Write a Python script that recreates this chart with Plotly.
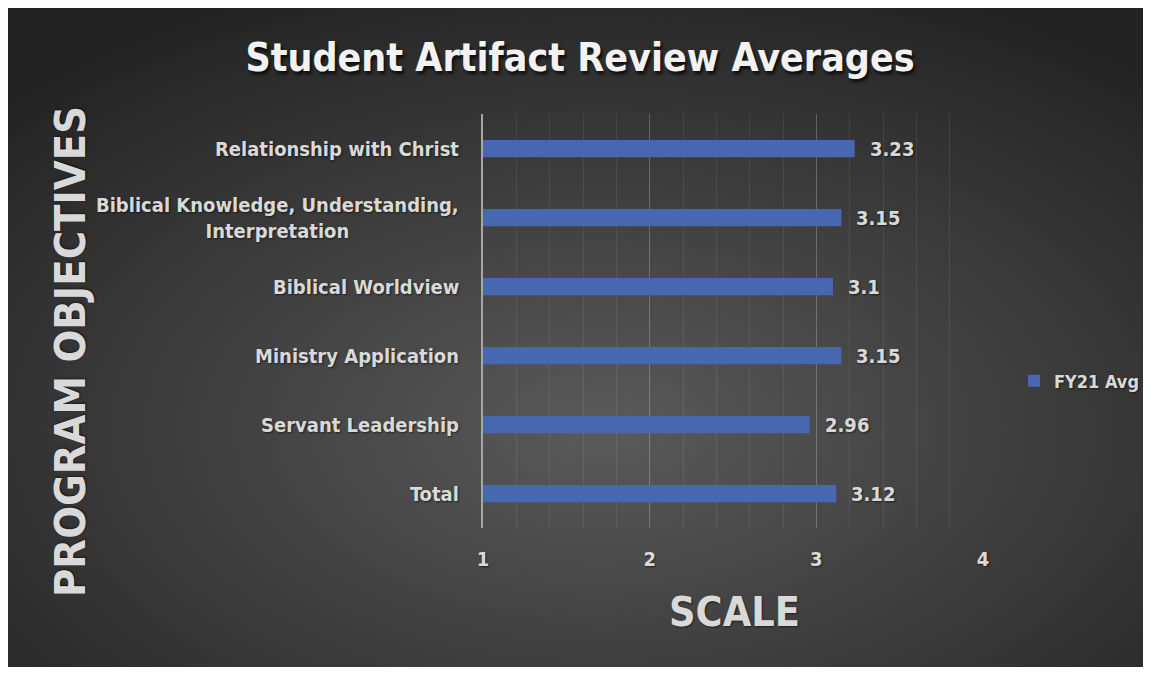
import base64
import plotly.graph_objects as go

categories = [
    "Relationship with Christ",
    "Biblical Knowledge, Understanding,<br>Interpretation",
    "Biblical Worldview",
    "Ministry Application",
    "Servant Leadership",
    "Total",
]
values = [3.23, 3.15, 3.1, 3.15, 2.96, 3.12]
series_name = "FY21 Avg"
x_ticks = [1, 2, 3, 4]

FONT = "DejaVu Sans Condensed, Liberation Sans Narrow, Arial Narrow, sans-serif"
TXT = "#d9d9d9"
BAR = "#4767b1"

OFF = 8  # page body margin
W, H = 1151 - OFF, 675 - 2 * OFF
# plot area in screen pixels -> figure pixels
PL, PR, PT, PB = 483 - OFF, 983 - OFF, 114 - OFF, 528 - OFF
pw, ph = PR - PL, PB - PT


def sx(px):
    return (px - OFF - PL) / pw


def sy(py):
    return (PB - (py - OFF)) / ph


svg = (
    f'<svg xmlns="http://www.w3.org/2000/svg" width="{W}" height="{H}" '
    f'viewBox="0 0 {W} {H}" preserveAspectRatio="none"><defs>'
    '<radialGradient id="g" cx="0.52" cy="0.64" r="0.72">'
    '<stop offset="0" stop-color="#5a5a5a"/>'
    '<stop offset="1" stop-color="#232323"/></radialGradient></defs>'
    f'<rect width="{W}" height="{H}" fill="url(#g)"/></svg>'
)
bg_src = "data:image/svg+xml;base64," + base64.b64encode(svg.encode()).decode()

fig = go.Figure()
fig.add_trace(go.Bar(
    x=values, y=categories, orientation="h", name=series_name,
    marker=dict(color=BAR, line=dict(width=0)), width=0.25,
    hoverinfo="skip", showlegend=True,
))

annotations = []
shadow = "1px 1px 2px rgba(0,0,0,0.55)"
for c, v in zip(categories, values):
    annotations.append(dict(
        x=v, y=c, xref="x", yref="y", text=f"{v:g}", showarrow=False,
        xanchor="left", yanchor="middle", xshift=13,
        font=dict(family=FONT, size=20, color=TXT, weight="bold", shadow=shadow),
    ))
    annotations.append(dict(
        x=sx(461), y=c, xref="paper", yref="y", text=c, showarrow=False,
        xanchor="right", yanchor="middle", align="center",
        font=dict(family=FONT, size=20, color=TXT, weight="bold", shadow=shadow),
    ))

annotations.append(dict(
    x=sx(734), y=sy(612), xref="paper", yref="paper",
    text="SCALE", showarrow=False, xanchor="center", yanchor="middle",
    font=dict(family=FONT, size=41, color=TXT, weight="bold", shadow=shadow),
))
annotations.append(dict(
    x=sx(70), y=sy(352), xref="paper", yref="paper",
    text="PROGRAM OBJECTIVES", showarrow=False, textangle=-90,
    xanchor="center", yanchor="middle",
    font=dict(family=FONT, size=43, color=TXT, weight="bold", shadow=shadow),
))

fig.update_layout(
    width=W, height=H,
    margin=dict(l=PL, r=W - PR, t=PT, b=H - PB, autoexpand=False),
    paper_bgcolor="#2a2a2a", plot_bgcolor="rgba(0,0,0,0)",
    title=dict(
        text="Student Artifact Review Averages", x=(580 - OFF) / W, y=1 - (57 - OFF) / H,
        xanchor="center", yanchor="middle",
        font=dict(family=FONT, size=39, color="#f2f2f2", weight="bold",
                  shadow="2px 3px 3px rgba(0,0,0,0.7)"),
    ),
    xaxis=dict(
        range=[1, 4], tickvals=x_ticks, ticktext=[str(t) for t in x_ticks],
        showgrid=True, gridcolor="rgba(255,255,255,0.17)", gridwidth=1,
        minor=dict(dtick=0.2, showgrid=True, gridcolor="rgba(255,255,255,0.08)", gridwidth=1),
        zeroline=False, showline=False, ticks="", ticklabelstandoff=17,
        tickfont=dict(family=FONT, size=20, color=TXT, weight="bold", shadow=shadow),
        fixedrange=True,
    ),
    yaxis=dict(
        autorange="reversed", showticklabels=False, showgrid=False,
        showline=True, linecolor="#a6a6a6", linewidth=2, zeroline=False, ticks="",
        fixedrange=True,
    ),
    legend=dict(
        x=sx(1014), y=sy(381), xanchor="left", yanchor="middle",
        bgcolor="rgba(0,0,0,0)",
        font=dict(family=FONT, size=18, color=TXT, weight="bold", shadow=shadow),
    ),
    images=[dict(
        source=bg_src, xref="paper", yref="paper",
        x=-PL / pw, y=PB / ph, sizex=W / pw, sizey=H / ph,
        sizing="stretch", xanchor="left", yanchor="top", layer="below",
    )],
    annotations=annotations,
    bargap=0.75,
)

fig.write_html("out.html")
